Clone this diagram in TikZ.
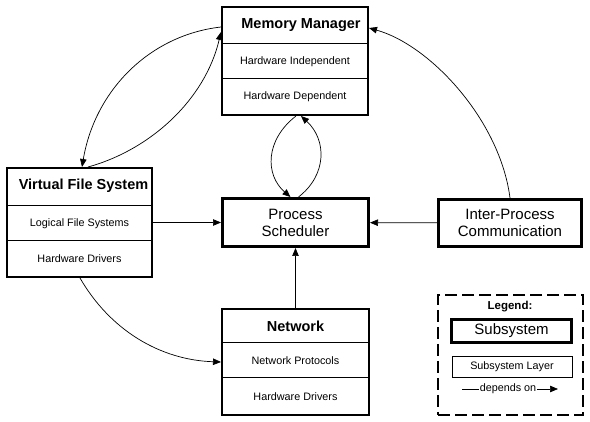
\documentclass[tikz,border=0pt]{standalone}
\usepackage{fontspec}
\setmainfont{Liberation Sans}
\usetikzlibrary{arrows.meta,calc}
\begin{document}
\begin{tikzpicture}[x=1pt,y=-1pt,
  outerbox/.style={draw,line width=2pt,inner sep=0pt},
  thickbox/.style={draw,line width=3pt,inner sep=0pt,align=center,font=\fontsize{15}{17}\selectfont},
  rowtext/.style={inner sep=0pt,font=\fontsize{10.8}{12}\selectfont},
  titletext/.style={inner sep=0pt,font=\bfseries\fontsize{14.5}{16}\selectfont},
  divider/.style={line width=0.8pt},
  dep/.style={line width=0.7pt,-{Triangle[length=8pt,width=6.5pt]}},
  legendbox/.style={draw,line width=2.6pt,dash pattern=on 12pt off 5pt}]
\useasboundingbox (0,0) rectangle (590,422);
% Memory Manager
\node[outerbox,minimum width=146,minimum height=108] (mm) at (295,61) {};
\node[rowtext,minimum width=146,minimum height=37] (mmT) at (295,25.5) {};
\node[titletext] at ($(mmT)+(6,0)$) {Memory Manager};
\node[rowtext,minimum width=146,minimum height=35] (mmA) at (295,61.5) {Hardware Independent};
\node[rowtext,minimum width=146,minimum height=36] (mmB) at (295,97) {Hardware Dependent};
\draw[divider] (mmA.north west) -- (mmA.north east);
\draw[divider] (mmB.north west) -- (mmB.north east);
% Virtual File System
\node[outerbox,minimum width=145,minimum height=109] (vfs) at (79.5,222.5) {};
\node[rowtext,minimum width=145,minimum height=38] (vfsT) at (79.5,186) {};
\node[titletext] at ($(vfsT)+(4,0)$) {Virtual File System};
\node[rowtext,minimum width=145,minimum height=35] (vfsA) at (79.5,223.5) {Logical File Systems};
\node[rowtext,minimum width=145,minimum height=36] (vfsB) at (79.5,259) {Hardware Drivers};
\draw[divider] (vfsA.north west) -- (vfsA.north east);
\draw[divider] (vfsB.north west) -- (vfsB.north east);
% Network
\node[outerbox,minimum width=147,minimum height=106] (net) at (295.5,362) {};
\node[rowtext,minimum width=147,minimum height=34] (netT) at (295.5,326) {};
\node[titletext] at (netT) {Network};
\node[rowtext,minimum width=147,minimum height=35] (netA) at (295.5,360.5) {Network Protocols};
\node[rowtext,minimum width=147,minimum height=37] (netB) at (295.5,396.5) {Hardware Drivers};
\draw[divider] (netA.north west) -- (netA.north east);
\draw[divider] (netB.north west) -- (netB.north east);
% Process Scheduler
\node[thickbox,minimum width=146,minimum height=48] (ps) at (295.5,222.5) {Process\\Scheduler};
% IPC
\node[thickbox,minimum width=143,minimum height=47] (ipc) at (510,223) {Inter-Process\\Communication};
% Legend
\node[legendbox,minimum width=145,minimum height=120] (leg) at (510.5,355) {};
\node[inner sep=0pt,font=\bfseries\fontsize{11.5}{13}\selectfont] (legT) at (510,307) {Legend:};
\node[thickbox,minimum width=120,minimum height=23] (legS) at (511.5,331) {Subsystem};
\node[draw,line width=0.8pt,inner sep=0pt,minimum width=120,minimum height=21,font=\fontsize{10.8}{12}\selectfont] (legL) at (512,366.5) {Subsystem Layer};
\node[inner sep=1pt,font=\fontsize{10.8}{12}\selectfont] (legD) at (508,389) {depends on};
\coordinate (legDa) at (462,389);
\coordinate (legDb) at (558,389);
\draw[line width=0.7pt] (legDa) -- (legD.west);
\draw[dep] (legD.east) -- (legDb);
% Connectors
\draw[dep] (vfs) -- (ps);
\draw[dep] (ipc) -- (ps);
\draw[dep] (net) -- (ps);
\draw[dep] ($(mm.south)+(1,0)$) .. controls (265,140) and (265,175) .. ($(ps.north)+(-5,0)$);
\draw[dep] ($(ps.north)+(3,0)$) .. controls (327,175) and (327,140) .. ($(mm.south)+(6,0)$);
\draw[dep] ($(mm.west)+(0,-34)$) .. controls (150,35) and (95,90) .. ($(vfs.north)+(2.5,0)$);
\draw[dep] ($(vfs.north)+(8.5,0)$) .. controls (150,150) and (205,100) .. ($(mm.west)+(0,-29)$);
\draw[dep] ($(vfs.south)+(0.5,0)$) .. controls (110,330) and (160,360) .. (net.west);
\draw[dep] (ipc.north) .. controls (500,120) and (430,45) .. ($(mm.east)+(0,-33)$);
\end{tikzpicture}
\end{document}
